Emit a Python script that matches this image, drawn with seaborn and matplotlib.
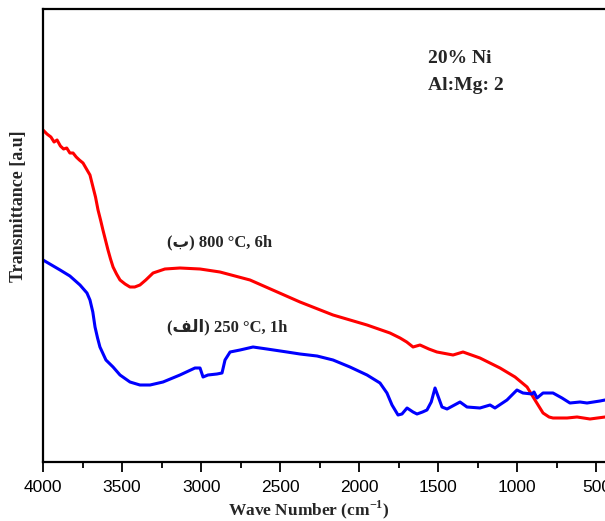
import matplotlib
matplotlib.use("Agg")
import matplotlib.pyplot as plt
import seaborn as sns
import pandas as pd
from matplotlib.ticker import MultipleLocator

# ---- data (wavenumber cm^-1, transmittance a.u.) ----
red_wn = [4000, 3975, 3950, 3930, 3911, 3890, 3870, 3850, 3830, 3810, 3790, 3770, 3747,
          3725, 3703, 3684, 3668, 3652, 3636, 3621, 3605, 3589, 3573, 3557, 3535, 3513,
          3481, 3450, 3420, 3387, 3350, 3304, 3229, 3134, 3007, 2881, 2691, 2375, 2166,
          1951, 1806, 1742, 1700, 1660, 1616, 1560, 1509, 1407, 1344, 1237, 1110, 1015,
          939, 889, 838, 800, 775, 686, 623, 541, 446]
red_t = [332, 328, 325, 320, 322, 316, 313, 314, 309, 309, 305, 302, 299,
         293, 287, 275, 265, 252, 242, 232, 222, 212, 203, 195, 188, 182,
         178, 175, 175, 177, 182, 189, 193, 194, 193, 190, 182, 160, 147,
         137, 129, 124, 120, 115, 117, 113, 110, 107, 110, 104, 94, 85,
         75, 62, 49, 45, 44, 44, 45, 43, 45]

blue_wn = [4000, 3892, 3830, 3766, 3722, 3703, 3685, 3671, 3655, 3640, 3602, 3557, 3513,
           3450, 3387, 3323, 3241, 3134, 3039, 3007, 2988, 2957, 2900, 2868, 2849, 2817,
           2754, 2672, 2584, 2457, 2375, 2267, 2166, 2059, 1951, 1869, 1825, 1793, 1755,
           1730, 1698, 1660, 1635, 1600, 1572, 1545, 1521, 1500, 1477, 1445, 1363, 1319,
           1237, 1173, 1142, 1066, 1003, 965, 908, 895, 876, 838, 775, 718, 668, 604,
           560, 478, 446]
blue_t = [202, 192, 186, 177, 169, 162, 150, 135, 124, 115, 102, 95, 87,
          80, 77, 77, 80, 87, 94, 94, 85, 87, 88, 89, 102, 110,
          112, 115, 113, 110, 108, 106, 102, 95, 87, 79, 69, 57, 47,
          48, 54, 50, 48, 50, 52, 60, 74, 65, 55, 53, 60, 55,
          54, 57, 54, 62, 72, 69, 68, 70, 64, 69, 69, 64, 59, 60,
          59, 61, 62]

xticks = [4000, 3500, 3000, 2500, 2000, 1500, 1000, 500]
label_a = "(\ufed2\ufedf\u0627) 250 \u00b0C, 1h"
label_b = "(\u0628) 800 \u00b0C, 6h"
note_lines = ["20% Ni", "Al:Mg: 2"]

sns.set_theme(style="white")
plt.rcParams["font.family"] = ["Liberation Sans", "DejaVu Sans"]

W, H = 605, 521
fig = plt.figure(figsize=(W / 100, H / 100), dpi=100)
ax = fig.add_axes([43 / W, (H - 462) / H, (612.3 - 43) / W, (462 - 9) / H])

red_df = pd.DataFrame({"wn": red_wn, "t": red_t})
blue_df = pd.DataFrame({"wn": blue_wn, "t": blue_t})
sns.lineplot(data=red_df, x="wn", y="t", ax=ax, color="#ff0000", lw=2.2, estimator=None, sort=False)
sns.lineplot(data=blue_df, x="wn", y="t", ax=ax, color="#0000ff", lw=2.2, estimator=None, sort=False)
for ln in ax.get_lines():
    ln.set_solid_joinstyle("round")

ax.set_xlim(4000, 400)
ax.set_ylim(0, 453)
ax.set_xticks(xticks)
ax.set_xticklabels([str(v) for v in xticks])
ax.xaxis.set_minor_locator(MultipleLocator(250))
ax.set_yticks([])
ax.tick_params(axis="x", which="major", direction="out", length=7, width=1.3,
               labelsize=12.5, bottom=True, pad=6, color="black", labelcolor="black")
ax.tick_params(axis="x", which="minor", direction="out", length=4, width=1.3, bottom=True, color="black")
for s in ax.spines.values():
    s.set_linewidth(1.6)
    s.set_color("black")

serif = ["Liberation Serif", "DejaVu Serif"]
ax.set_xlabel("Wave Number (cm$^{\\mathregular{-1}}$)", family=serif, fontweight="bold", fontsize=12.5)
ax.xaxis.set_label_coords((309 - 43) / 569.3, -(515 - 462) / 453, transform=ax.transAxes)
ax.xaxis.label.set_va("baseline")
ax.set_ylabel("Transmittance [a.u]", family=serif, fontweight="bold", fontsize=13)
ax.yaxis.set_label_coords(-0.028, (462 - 206) / 453)

txt_fam = ["Liberation Serif", "DejaVu Sans"]
fig.text(428 / W, 1 - 63.5 / H, note_lines[0], family=txt_fam, fontweight="bold", fontsize=14, va="baseline", ha="left")
fig.text(428 / W, 1 - 89.5 / H, note_lines[1], family=txt_fam, fontweight="bold", fontsize=14, va="baseline", ha="left")
fig.text(167 / W, 1 - 246 / H, label_b, family=txt_fam, fontweight="bold", fontsize=12, va="baseline", ha="left")
fig.text(167 / W, 1 - 331 / H, label_a, family=txt_fam, fontweight="bold", fontsize=12, va="baseline", ha="left")

fig.savefig("out.png", dpi=100, facecolor="white")
